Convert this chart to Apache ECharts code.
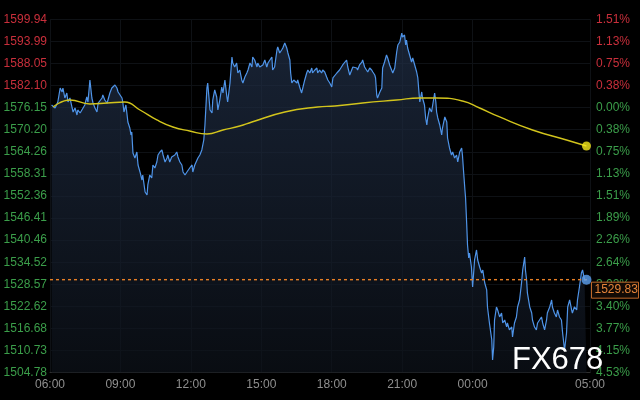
<!DOCTYPE html>
<html><head><meta charset="utf-8">
<script src="https://cdn.jsdelivr.net/npm/echarts@6/dist/echarts.min.js"></script>
<style>html,body{margin:0;padding:0;background:#000;}#c{width:640px;height:400px;}</style>
</head><body><div id="c"></div>
<script>
// minutes since 06:00
const times = [4,13,20,26,31,33,38,43,46,51,56,59,64,69,71,77,82,89,94,97,102,107,110,115,120,123,128,133,135,140,146,148,153,158,161,166,171,174,179,184,186,189,194,197,199,204,207,209,212,217,222,225,230,235,237,243,248,250,255,260,263,268,273,276,281,286,289,294,299,301,306,311,314,319,324,327,332,337,340,345,350,352,357,363,365,370,378,383,388,393,396,401,
403,409,414,416,421,426,429,434,439,442,447,452,454,460,465,467,472,477,480,485,490,493,498,503,506,511,516,518,523,529,531,536,541,544,549,554,557,562,567,569,574,580,582,587,592,595,600,605,608,613,615,618,623,631,633,638,643,646,651,656,659,664,669,671,677,682,684,689,694,697,702,707,710,715,720,
723,733,740,748,758,761,766,771,774,779,784,786,791,797,799,804,809,812,817,822,825,830,832,835,837,843,848,850,855,860,863,868,873,876,881,886,889,894,899,901,906,909,911,914,919,924,927,932,937,940,942,945,950,952,957,960,963,965,970,975,978,983,986,988,991,996,1001,1003,1009,1014,1016,1021,1026,1029,1034,1039,1042,1047,1052,1054,1057,1060,1062,1065,1067,1070,
1072,1077,1080,1085,1090,1093,1098,1103,1106,1111,1116,1118,1123,1129,1131,1134,1136,1141,1144,1149,1154,1157,1162,1167,1169,1174,1180,1182,1187,1192,1195,1200,1205,1208,1213,1215,1218,1220,1226,1231,1233,1238,1243,1246,1251,1256,1259,1264,1269,1271,1277,1282,1284,1289,1294,1297,1302,1307,1310,1315,1320,1323,1328,1333,1335,1340,1346,1348,1353,1358,1361,1366,1371];
const prices = [1576.87,1576.06,1577.67,1581.44,1580.37,1581.44,1578.75,1580.10,1577.67,1578.75,1576.33,1574.98,1576.06,1574.17,1575.52,1574.71,1574.98,1576.87,1579.02,1577.67,1583.60,1578.75,1577.40,1576.06,1574.98,1577.40,1576.87,1578.75,1579.56,1578.21,1577.40,1577.67,1580.10,1581.44,1580.91,1582.25,1581.44,1580.37,1579.56,1578.75,1577.67,1574.98,1576.87,1574.17,1572.29,1570.67,1568.79,1569.60,1563.94,1562.60,1564.21,1560.71,1558.83,1556.67,1558.02,1553.44,1552.63,1555.33,1558.02,1557.21,1560.71,1559.90,1561.52,1563.40,1564.21,1564.75,1563.40,1561.52,1562.60,1563.40,1561.52,1562.87,1562.60,1563.40,1564.21,1562.87,1561.52,1560.71,1558.83,1558.02,1558.83,1558.56,1559.90,1560.71,1558.83,1560.71,1562.60,1563.40,1564.75,1567.44,1571.48,1581.44,
1582.79,1575.52,1574.71,1578.21,1580.91,1579.02,1575.52,1578.21,1581.71,1580.10,1583.60,1579.02,1577.67,1582.79,1589.79,1588.17,1587.10,1588.17,1585.48,1586.29,1583.60,1582.79,1584.40,1585.48,1586.29,1588.17,1587.10,1589.79,1588.98,1587.10,1588.17,1587.10,1586.83,1587.64,1588.98,1587.10,1588.17,1588.44,1589.79,1586.29,1587.10,1591.67,1592.48,1590.87,1591.67,1592.21,1593.56,1592.21,1590.87,1588.98,1585.48,1582.79,1583.60,1582.79,1583.60,1581.71,1580.10,1581.44,1583.60,1585.48,1586.29,1585.48,1586.83,1585.48,1586.29,1586.83,1585.48,1586.29,1585.48,1586.29,1585.75,1584.40,1583.60,1582.79,1581.71,
1584.14,1585.48,1586.29,1587.64,1588.98,1587.10,1584.94,1586.29,1587.10,1586.83,1586.83,1586.29,1587.64,1588.44,1588.98,1587.10,1586.83,1585.75,1586.83,1586.29,1585.75,1584.94,1584.14,1579.56,1578.75,1580.37,1581.44,1586.83,1588.44,1590.33,1589.52,1587.64,1586.29,1585.48,1586.83,1591.14,1593.02,1593.83,1596.25,1595.17,1595.71,1593.02,1594.37,1592.21,1590.33,1588.44,1589.52,1587.64,1585.75,1584.14,1581.44,1577.67,1580.37,1578.75,1576.87,1573.37,1571.48,1573.37,1576.06,1574.98,1576.87,1580.10,1577.67,1574.98,1573.37,1571.48,1568.79,1570.67,1573.64,1572.29,1567.98,1565.29,1563.40,1564.21,1562.60,1563.40,1561.52,1564.21,1565.29,1563.40,1558.83,1554.52,1551.83,1544.56,1539.17,1535.67,
1537.02,1533.25,1527.86,1535.13,1537.83,1535.13,1533.25,1531.63,1532.44,1528.94,1527.06,1522.48,1518.17,1513.60,1508.21,1511.71,1518.98,1522.48,1521.67,1519.79,1520.86,1518.17,1518.98,1517.10,1518.17,1516.29,1517.10,1514.40,1518.17,1519.79,1522.48,1524.36,1528.94,1532.44,1535.94,1532.44,1529.75,1526.25,1522.48,1520.86,1518.98,1517.10,1516.29,1518.17,1518.98,1519.79,1518.17,1516.29,1518.98,1520.86,1522.48,1524.36,1522.48,1520.86,1519.79,1521.67,1519.79,1518.98,1515.48,1510.90,1515.48,1522.48,1524.36,1521.67,1520.86,1522.48,1521.67,1524.36,1527.86,1531.63,1532.44,1529.75,1529.83];
const avgTimes = [8,51,102,146,191,230,273,314,357,401,442,485,516,600,684,728,799,886,945,988,1054,1098,1149,1233,1320,1371];
const avgPrices = [1576.33,1578.21,1577.14,1577.40,1577.67,1575.52,1572.83,1570.94,1569.87,1569.06,1570.14,1571.21,1572.29,1574.98,1576.33,1576.60,1577.40,1578.21,1578.75,1578.75,1577.94,1576.06,1573.64,1570.14,1567.44,1565.83];
const lastPrice = 1529.83;
const priceTickLabels = ['1504.78','1510.73','1516.68','1522.62','1528.57','1534.52','1540.46','1546.41','1552.36','1558.31','1564.26','1570.20','1576.15','1582.10','1588.05','1593.99','1599.94'];
const pctTickLabels = ['4.53%','4.15%','3.77%','3.40%','3.02%','2.64%','2.26%','1.89%','1.51%','1.13%','0.75%','0.38%','0.00%','0.38%','0.75%','1.13%','1.51%'];
const xTickValues = [0,180,360,540,720,900,1080,1380];
const xTickLabels = ['06:00','09:00','12:00','15:00','18:00','21:00','00:00','05:00'];
const priceMin = 1504.78, priceMax = 1599.94;
const baseIndex = 12;

const chart = echarts.init(document.getElementById('c'), null, {renderer:'canvas'});
const FONT = '"Liberation Sans", Arial, sans-serif';
function labelColor(i){ return i>baseIndex?'#c92f3b':(i===baseIndex?'#bdbdbd':'#3b9e4a'); }
const option = {
  backgroundColor:'#000',
  animation:false,
  grid:{left:50,right:50,top:19.3,bottom:27.3},
  xAxis:{type:'value',min:0,max:1380,
    axisLine:{show:true,lineStyle:{color:'#2e2e2e'}},
    axisTick:{show:false,customValues:xTickValues},
    axisLabel:{customValues:xTickValues,formatter:(v)=>xTickLabels[xTickValues.indexOf(v)],color:'#8f8f8f',fontSize:12,fontFamily:FONT,margin:6},
    splitLine:{show:true,lineStyle:{color:'#0e1115'}}},
  yAxis:[
    {type:'value',min:priceMin,max:priceMax,show:false,splitLine:{show:false}},
    {type:'value',min:0,max:16,interval:1,position:'left',axisLine:{show:false},axisTick:{show:false},
      axisLabel:{formatter:(v)=>priceTickLabels[v],color:(v)=>labelColor(v),fontSize:12,fontFamily:FONT,margin:3},
      splitLine:{show:true,lineStyle:{color:'#0e1115'}}},
    {type:'value',min:0,max:16,interval:1,position:'right',axisLine:{show:false},axisTick:{show:false},
      axisLabel:{formatter:(v)=>pctTickLabels[v],color:(v)=>labelColor(v),fontSize:12,fontFamily:FONT,margin:6},
      splitLine:{show:false}}
  ],
  series:[
    {type:'line',yAxisIndex:0,data:times.map((t,i)=>[t,prices[i]]),symbol:'none',
      lineStyle:{color:'#4f94e8',width:1.2},
      areaStyle:{origin:'start',color:new echarts.graphic.LinearGradient(0,0,0,1,[{offset:0,color:'#22314a'},{offset:1,color:'#0d121a'}])},
      z:2},
    {type:'line',yAxisIndex:0,data:[[0,lastPrice],[1380,lastPrice]],symbol:'none',silent:true,
      lineStyle:{color:'#e67f26',type:[3,3],width:1.4},z:3},
    {type:'line',yAxisIndex:0,data:avgTimes.map((t,i)=>[t,avgPrices[i]]),symbol:'none',smooth:true,
      lineStyle:{color:'#d2c41c',width:1.4},z:3},
    {type:'scatter',yAxisIndex:0,data:[[times[times.length-1],lastPrice]],symbolSize:10,itemStyle:{color:'#5ea2f2'},z:4},
    {type:'scatter',yAxisIndex:0,data:[[avgTimes[avgTimes.length-1],avgPrices[avgPrices.length-1]]],symbolSize:9,itemStyle:{color:'#f7ea1d'},z:4}
  ]
};
chart.setOption(option);
const py = chart.convertToPixel({xAxisIndex:0,yAxisIndex:0},[1380,lastPrice])[1];
chart.setOption({graphic:[
  {type:'group',left:591,top:py+2,z:100,children:[
    {type:'rect',z:100,shape:{x:0,y:0,width:47,height:16},style:{fill:'#120a05',stroke:'#c0692a',lineWidth:1}},
    {type:'text',z:101,x:3,y:2,style:{text:lastPrice.toFixed(2),fill:'#e4843a',font:'12px '+FONT}}
  ]},
  {type:'text',z:100,left:512,top:345,style:{text:'FX678',fill:'#ffffff',font:'31px '+FONT}}
]});
</script></body></html>
